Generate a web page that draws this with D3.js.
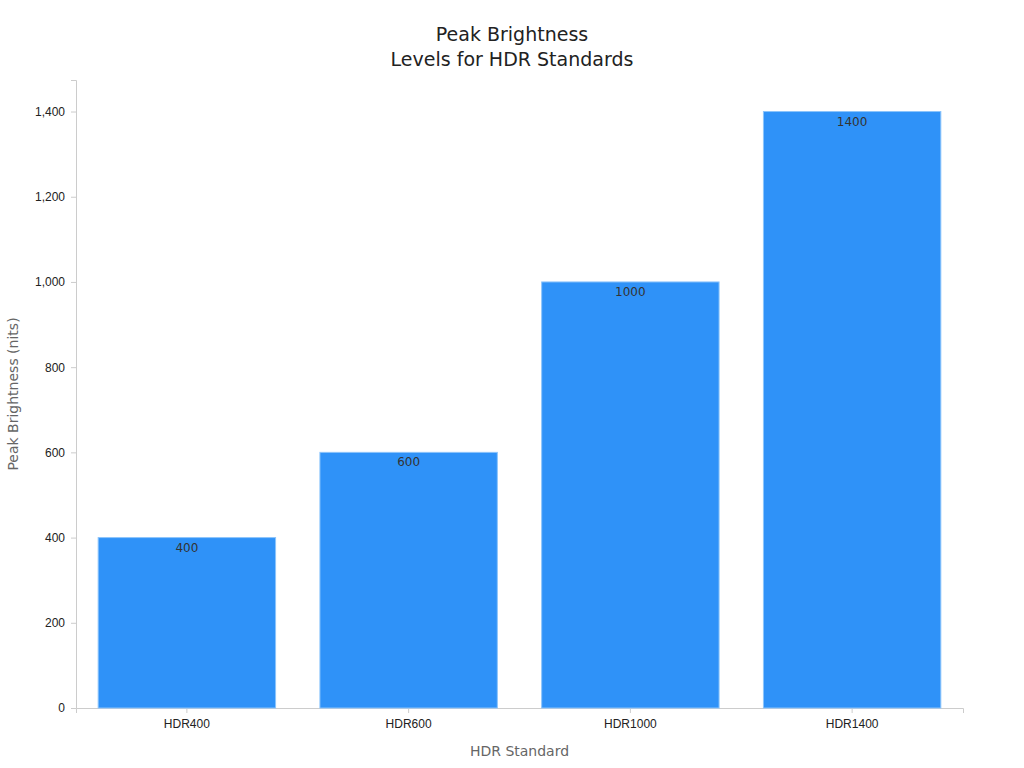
<!DOCTYPE html>
<html>
<head>
<meta charset="utf-8">
<script src="https://cdn.jsdelivr.net/npm/d3@7"></script>
<style>
  body { margin: 0; background: #fff; font-family: "DejaVu Sans", sans-serif; }
  .axis text { font-size: 12px; fill: #222; }
  .axis path, .axis line { stroke: #ccc; }
</style>
</head>
<body>
<svg id="chart" width="1024" height="768"></svg>
<script>
var categories = ['HDR400', 'HDR600', 'HDR1000', 'HDR1400'];
var brightness = [400, 600, 1000, 1400];
var yTicks = [0, 200, 400, 600, 800, 1000, 1200, 1400];

var margin = { top: 80, right: 61, bottom: 60, left: 76 };
var width = 1024 - margin.left - margin.right;
var height = 708 - margin.top;

var svg = d3.select('#chart');
var g = svg.append('g').attr('transform', 'translate(' + margin.left + ',' + margin.top + ')');

var x = d3.scaleBand().domain(categories).range([0, width]).paddingInner(0.2).paddingOuter(0.1);
var y = d3.scaleLinear().domain([0, 1474]).range([height, 0]);

g.append('g').attr('class', 'axis')
  .call(d3.axisLeft(y).tickValues(yTicks).tickSize(5).tickPadding(4))
  .call(function(a) { a.selectAll('text').attr('dx', '-2'); });

g.append('g').attr('class', 'axis')
  .attr('transform', 'translate(0,' + height + ')')
  .call(d3.axisBottom(x).tickSize(5).tickPadding(6));

g.selectAll('.bar')
  .data(brightness)
  .enter().append('rect')
  .attr('x', function(d, i) { return x(categories[i]); })
  .attr('y', function(d) { return y(d); })
  .attr('width', x.bandwidth())
  .attr('height', function(d) { return height - y(d); })
  .attr('fill', '#2f92f8')
  .attr('stroke', '#8cc4fb')
  .attr('stroke-width', 1);

g.selectAll('.label')
  .data(brightness)
  .enter().append('text')
  .attr('x', function(d, i) { return x(categories[i]) + x.bandwidth() / 2; })
  .attr('y', function(d) { return y(d) + 14; })
  .attr('text-anchor', 'middle')
  .attr('font-size', 12)
  .attr('fill', '#333')
  .text(function(d) { return d; });

svg.append('text').attr('x', 512).attr('y', 41).attr('text-anchor', 'middle')
  .attr('font-size', 19).attr('fill', '#222').text('Peak Brightness');
svg.append('text').attr('x', 512).attr('y', 66).attr('text-anchor', 'middle')
  .attr('font-size', 19).attr('fill', '#222').text('Levels for HDR Standards');

svg.append('text').attr('x', margin.left + width / 2).attr('y', 756).attr('text-anchor', 'middle')
  .attr('font-size', 14).attr('fill', '#666').text('HDR Standard');
svg.append('text').attr('transform', 'translate(18,394) rotate(-90)').attr('text-anchor', 'middle')
  .attr('font-size', 14).attr('fill', '#666').text('Peak Brightness (nits)');
</script>
</body>
</html>
